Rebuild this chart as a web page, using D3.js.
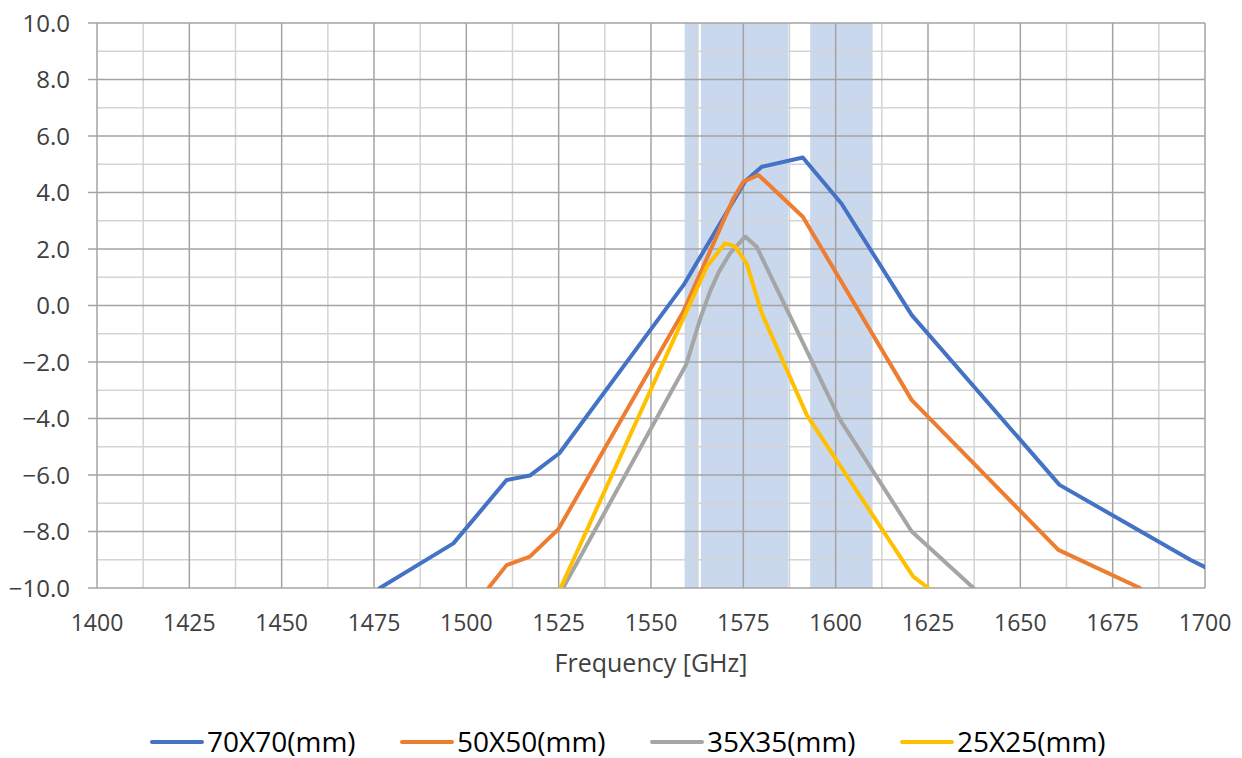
<!DOCTYPE html>
<html>
<head>
<meta charset="utf-8">
<script src="https://cdn.jsdelivr.net/npm/d3@7"></script>
<style>
  body { margin: 0; background: #fff; }
  text { font-family: "Open Sans", "Noto Sans", sans-serif; fill: #404040; }
</style>
</head>
<body>
<div id="chart"></div>
<script>
var width = 1242,
    height = 758;

// measured frequencies [GHz] and gain [dB] per patch size
var freq70 = [1476.6, 1496.5, 1510.9, 1517.2, 1525.2, 1558.8, 1575.5, 1580.0, 1591.1, 1601.6, 1620.6, 1660.6, 1696.0, 1700.0];
var gain70 = [-10.0, -8.42, -6.18, -6.02, -5.23, 0.72, 4.40, 4.91, 5.24, 3.60, -0.34, -6.35, -9.00, -9.26];

var freq50 = [1506.0, 1510.9, 1517.2, 1524.9, 1558.8, 1572.3, 1575.0, 1579.1, 1591.1, 1620.6, 1660.3, 1682.4];
var gain50 = [-10.0, -9.19, -8.89, -7.92, -0.20, 3.79, 4.38, 4.62, 3.14, -3.35, -8.65, -10.0];

var freq35 = [1526.2, 1559.5, 1563.5, 1566.0, 1568.4, 1571.4, 1575.5, 1578.6, 1601.2, 1620.6, 1637.3];
var gain35 = [-10.0, -2.10, -0.40, 0.50, 1.20, 1.85, 2.44, 2.08, -4.05, -8.00, -10.0];

var freq25 = [1525.5, 1565.1, 1570.0, 1572.7, 1575.9, 1580.0, 1592.2, 1621.0, 1625.1];
var gain25 = [-10.0, 1.37, 2.20, 2.10, 1.49, -0.28, -3.88, -9.60, -10.0];

var seriesNames = ["70X70(mm)", "50X50(mm)", "35X35(mm)", "25X25(mm)"];
var seriesColors = ["#4472C4", "#ED7D31", "#A5A5A5", "#FFC000"];

// shaded frequency bands
var bandStart = [1559.1, 1563.5, 1593.1];
var bandEnd = [1562.9, 1587.2, 1610.0];

var xTicks = d3.range(1400, 1701, 25);
var xMinor = d3.range(1412.5, 1700, 25);
var yTicks = d3.range(-10, 10.1, 2);
var yMinor = d3.range(-9, 10, 2);

var margin = {left: 97, right: 37, top: 23, bottom: 170};
var plotW = width - margin.left - margin.right,
    plotH = height - margin.top - margin.bottom;

var x = d3.scaleLinear().domain([1400, 1700]).range([0, plotW]);
var y = d3.scaleLinear().domain([-10, 10]).range([plotH, 0]);

var svg = d3.select("#chart").append("svg")
    .attr("width", width)
    .attr("height", height);

var g = svg.append("g")
    .attr("transform", "translate(" + margin.left + "," + margin.top + ")");

g.append("clipPath").attr("id", "plotclip")
  .append("rect")
    .attr("x", 0).attr("y", 0)
    .attr("width", plotW).attr("height", plotH);

// bands
g.selectAll(".band")
    .data(bandStart)
    .enter().append("rect")
    .attr("class", "band")
    .attr("x", function(d) { return x(d); })
    .attr("y", 0)
    .attr("width", function(d, i) { return x(bandEnd[i]) - x(d); })
    .attr("height", plotH)
    .attr("fill", "#c9d8ec");

// minor grid
g.selectAll(".vminor")
    .data(xMinor)
    .enter().append("line")
    .attr("x1", function(d) { return x(d); })
    .attr("x2", function(d) { return x(d); })
    .attr("y1", 0).attr("y2", plotH)
    .attr("stroke", "#d4d4d4").attr("stroke-width", 1.5);

g.selectAll(".hminor")
    .data(yMinor)
    .enter().append("line")
    .attr("y1", function(d) { return y(d); })
    .attr("y2", function(d) { return y(d); })
    .attr("x1", 0).attr("x2", plotW)
    .attr("stroke", "#d4d4d4").attr("stroke-width", 1.5);

// major grid
g.selectAll(".vmajor")
    .data(xTicks)
    .enter().append("line")
    .attr("x1", function(d) { return x(d); })
    .attr("x2", function(d) { return x(d); })
    .attr("y1", 0).attr("y2", plotH)
    .attr("stroke", "#a3a3a3").attr("stroke-width", 1.5);

g.selectAll(".hmajor")
    .data(yTicks)
    .enter().append("line")
    .attr("y1", function(d) { return y(d); })
    .attr("y2", function(d) { return y(d); })
    .attr("x1", -9).attr("x2", plotW)
    .attr("stroke", "#a3a3a3").attr("stroke-width", 1.5);

// tick labels
g.selectAll(".ylab")
    .data(yTicks)
    .enter().append("text")
    .attr("x", -27)
    .attr("y", function(d) { return y(d); })
    .attr("dy", "0.36em")
    .attr("text-anchor", "end")
    .style("font-size", "24px")
    .text(function(d) { return d3.format(".1f")(d); });

g.selectAll(".xlab")
    .data(xTicks)
    .enter().append("text")
    .attr("x", function(d) { return x(d); })
    .attr("y", plotH + 43)
    .attr("text-anchor", "middle")
    .style("font-size", "23px")
    .text(function(d) { return d; });

g.append("text")
    .attr("x", plotW / 2)
    .attr("y", plotH + 84)
    .attr("text-anchor", "middle")
    .style("font-size", "25px")
    .text("Frequency [GHz]");

// lines
var allFreq = [freq70, freq50, freq35, freq25];
var allGain = [gain70, gain50, gain35, gain25];

var line = d3.line()
    .x(function(d) { return x(d[0]); })
    .y(function(d) { return y(d[1]); });

var lines = g.append("g").attr("clip-path", "url(#plotclip)");

allFreq.forEach(function(fr, i) {
    var pts = fr.map(function(f, j) { return [f, allGain[i][j]]; });
    lines.append("path")
        .datum(pts)
        .attr("d", line)
        .attr("fill", "none")
        .attr("stroke", seriesColors[i])
        .attr("stroke-width", 4)
        .attr("stroke-linejoin", "round")
        .attr("stroke-linecap", "round");
});

// legend
var legend = svg.append("g")
    .attr("transform", "translate(150,742)");

var item = legend.selectAll(".item")
    .data(seriesNames)
    .enter().append("g")
    .attr("transform", function(d, i) { return "translate(" + (i * 250) + ",0)"; });

item.append("line")
    .attr("x1", 2).attr("x2", 52)
    .attr("y1", 0).attr("y2", 0)
    .attr("stroke", function(d, i) { return seriesColors[i]; })
    .attr("stroke-width", 4)
    .attr("stroke-linecap", "round");

item.append("text")
    .attr("x", 57)
    .attr("y", 0)
    .attr("dy", "0.36em")
    .style("font-size", "28px")
    .style("fill", "#000")
    .text(function(d) { return d; });
</script>
</body>
</html>
